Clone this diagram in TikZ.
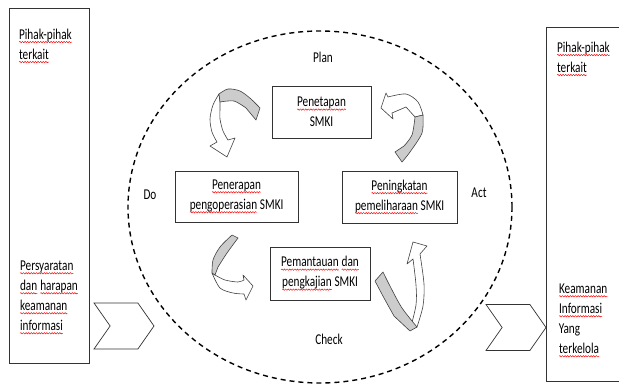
\documentclass[tikz,border=0pt]{standalone}
\usepackage{fontspec}
\setmainfont{Carlito}[FakeStretch=0.75]
\usepackage{tikz}
\usetikzlibrary{positioning, shapes.geometric, shapes.symbols, decorations.pathmorphing}

% red wavy underline of the spell checker
\newcommand{\spl}[1]{\tikz[baseline=(w.base), x=1pt, y=1pt]{\node[rectangle, draw=none, fill=none, minimum width=0pt, minimum height=0pt, inner sep=0pt, outer sep=0pt] (w) {#1};
  \draw[red, line width=0.45pt, decorate, decoration={snake, amplitude=0.7pt, segment length=2.6pt}] ([yshift=-2.8pt]w.base west) -- ([yshift=-2.8pt]w.base east);}}

\tikzstyle{smk} = [rectangle, draw=black!80, line width=0.7pt, align=center, inner sep=0pt, font=\fontsize{15}{20}\selectfont]
\tikzstyle{side} = [rectangle, draw=black!80, line width=0.7pt, minimum width=80pt, minimum height=355pt]
\tikzstyle{lbl} = [align=left, inner sep=0pt, font=\fontsize{15}{20}\selectfont]
\tikzstyle{pdca} = [inner sep=0pt, font=\fontsize{15}{20}\selectfont]
\tikzstyle{chev} = [signal, signal to=east, signal from=west, signal pointer angle=110, draw=black!80, line width=0.7pt, minimum width=60pt, minimum height=46pt, inner sep=0pt]
\tikzstyle{cycleline} = [ellipse, draw, dash pattern=on 5pt off 4pt, line width=1.4pt, minimum width=384pt, minimum height=352pt]
\tikzstyle{twist} = [draw=black!75, fill=white, line width=0.6pt, line join=round]
\tikzstyle{twistback} = [twist, fill=gray!40]

\begin{document}
\begin{tikzpicture}[x=1pt, y=-1pt]
        \useasboundingbox (0,0) rectangle (619,385);
        % Side boxes
        \node (leftbox) [side] at (49,185.5) {};
        \node (rightbox) [side, minimum height=354pt] at (586,204) {};
        \node (pihakin) [lbl, below right=21pt and 10pt of leftbox.north west] {\spl{Pihak-pihak}\\\spl{terkait}};
        \node (syarat) [lbl, below right=253pt and 11pt of leftbox.north west] {\spl{Persyaratan}\\\spl{dan} \spl{harapan}\\\spl{keamanan}\\\spl{informasi}};
        \node (pihakout) [lbl, below right=15pt and 11pt of rightbox.north west] {\spl{Pihak-pihak}\\\spl{terkait}};
        \node (hasil) [lbl, below right=257pt and 13pt of rightbox.north west] {\spl{Keamanan}\\\spl{Informasi}\\Yang\\\spl{terkelola}};
        % Chevrons
        \node (chevin) [chev] at (124,326) {};
        \node (chevout) [chev] at (516,327.5) {};
        % PDCA cycle
        \node (cyc) [cycleline] at (320,207) {};
        \node (plan) [pdca] at (323,57) {Plan};
        \node (do) [pdca] at (150,195) {Do};
        \node (act) [pdca] at (479,193) {Act};
        \node (check) [pdca] at (329,339) {Check};
        % SMKI steps
        \node (tetap) [smk, minimum width=99pt, minimum height=52pt] at (321.5,112) {\spl{Penetapan}\\SMKI};
        \node (terap) [smk, minimum width=123pt, minimum height=51pt] at (236.5,196.5) {\spl{Penerapan}\\\spl{pengoperasian} SMKI};
        \node (tingkat) [smk, minimum width=115pt, minimum height=52pt] at (399.5,197) {\spl{Peningkatan}\\\spl{pemeliharaan} SMKI};
        \node (pantau) [smk, minimum width=100pt, minimum height=53pt] at (320,273.5) {\spl{Pemantauan} \spl{dan}\\\spl{pengkajian} SMKI};
        % Curved arrows: Plan -> Do
        \filldraw[twist] plot[smooth] coordinates {(219,94) (213,105) (210,119) (212,132) (217,142)}
          -- (210,146) -- (227,157) -- (235,138)
          -- plot[smooth] coordinates {(228,140) (223,131) (220,119) (220,109) (220,102)} -- cycle;
        \filldraw[twistback] plot[smooth] coordinates {(219,94) (228,89) (240,91) (251,99) (260,108)}
          -- (256,120) -- plot[smooth] coordinates {(246,108) (234,101) (220,102)} -- cycle;
        % Act -> Plan
        \filldraw[twist] (381,108) -- (386,93) -- plot[smooth] coordinates {(388,97) (406,94) (418,102) (423,115)}
          -- (415,117) -- plot[smooth] coordinates {(406,107) (392,113)} -- (393,119) -- cycle;
        \filldraw[twistback] plot[smooth] coordinates {(423,115) (422,133) (410,152) (402,162)}
          -- (395,152) -- plot[smooth] coordinates {(404,146) (412,135) (415,117)} -- cycle;
        % Do -> Check
        \filldraw[twist] plot[smooth] coordinates {(212,273) (220,288) (233,293) (244,294)}
          -- (246,300) -- (253,286) -- (243,275)
          -- plot[smooth] coordinates {(244,280) (238,282) (225,280) (215,275)} -- cycle;
        \filldraw[twistback] plot[smooth] coordinates {(232,235) (220,247) (213,260) (212,273)}
          -- (215,275) -- plot[smooth] coordinates {(218,267) (227,253) (238,238)} -- cycle;
        % Check -> Act
        \filldraw[twist] (410,330) -- plot[smooth] coordinates {(417,327) (423,306) (424,284) (420,254)}
          -- (427,246) -- (413,242) -- (407,264)
          -- plot[smooth] coordinates {(413,259) (416,285) (416,305) (410,330)} -- cycle;
        \filldraw[twistback] plot[smooth] coordinates {(383,272) (391,288) (402,308) (417,327)}
          -- (410,331) -- plot[smooth] coordinates {(394,316) (384,298) (375,281)} -- cycle;
    \end{tikzpicture}
\end{document}
